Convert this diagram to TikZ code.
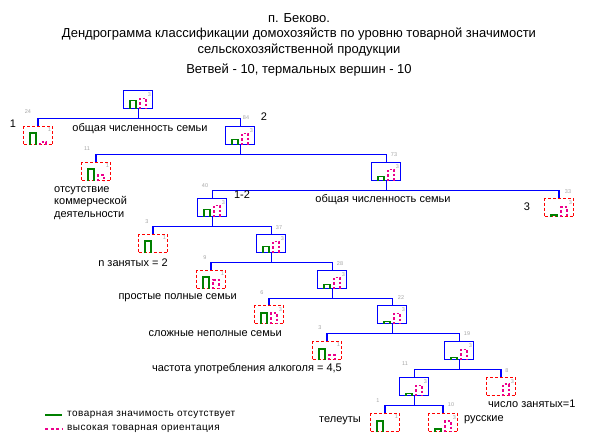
\documentclass[tikz,border=0pt]{standalone}
\usepackage{fontspec}
\setmainfont{Liberation Sans}
\newfontfamily\legfont[LetterSpace=4.5]{Liberation Sans}
\definecolor{dgreen}{RGB}{0,128,0}
\definecolor{numgray}{RGB}{165,165,165}
\tikzset{
  bl/.style={draw=blue, line width=1.2pt},
  bbox/.style={draw=blue, line width=1.2pt, minimum width=29pt, minimum height=18pt, inner sep=0pt, anchor=north west},
  rbox/.style={draw=red, line width=1.1pt, dash pattern=on 3pt off 2pt, minimum width=29pt, minimum height=18pt, inner sep=0pt, anchor=north west},
  gbar/.style={draw=dgreen, line width=1.3pt},
  mbar/.style={draw=magenta, line width=1.3pt, dash pattern=on 2.5pt off 2pt},
  num/.style={font=\fontsize{5.5}{6}\selectfont, text=numgray, inner sep=0pt},
  lbl/.style={font=\fontsize{11}{13}\selectfont, inner sep=0pt},
  big/.style={font=\fontsize{11}{12}\selectfont, inner sep=0pt},
  ttl/.style={font=\fontsize{13}{15}\selectfont, inner sep=0pt},
  leg/.style={font=\legfont\fontsize{10}{11}\selectfont, inner sep=0pt, anchor=west},
}
% #1 name, #2 x, #3 y, #4 style, #5 green height, #6 magenta height, #7 inner label
\newcommand{\dbox}[7]{%
  \node[#4] (#1) at (#2,#3) {};
  \ifnum#5>0 \draw[gbar] ([xshift=7pt]#1.south west) -- ++(0,-#5) -- ++(6,0) -- ++(0,#5);\fi
  \ifnum#6>0 \draw[mbar] ([xshift=17pt]#1.south west) -- ++(0,-#6) -- ++(6,0) -- ++(0,#6);\fi
  \node[num, anchor=north east] at ([xshift=-2pt,yshift=-2pt]#1.north east) {#7};
}
\newcommand{\tedge}[3]{%
  \draw[bl] (#1.south) -- ++(0,9) coordinate (#1b);
  \draw[bl] (#2.north) |- (#1b) -| (#3.north);
}
\begin{document}
\begin{tikzpicture}[x=1pt,y=-1pt]
\useasboundingbox (0,0) rectangle (598,447);
% titles
\node[ttl] (t1) at (299,18) {п. Беково.};
\node[ttl] (t2) at (299,34) {Дендрограмма классификации домохозяйств по уровню товарной значимости};
\node[ttl] (t3) at (299,50) {сельскохозяйственной продукции};
\node[ttl] (t4) at (299,70) {Ветвей - 10, термальных вершин - 10};
% boxes
\dbox{root}{123}{90}{bbox}{9}{11}{3}
\dbox{n1}{23}{126}{rbox}{12}{3}{1}
\dbox{n2}{225}{126}{bbox}{6}{12}{3}
\dbox{n11}{81}{162}{rbox}{12}{6}{1}
\dbox{n73}{371}{162}{bbox}{5}{12}{3}
\dbox{n40}{197}{198}{bbox}{8}{12}{3}
\dbox{n33}{544}{198}{rbox}{2}{10}{3}
\dbox{n3a}{138}{234}{rbox}{12}{0}{1}
\dbox{n37}{256}{234}{bbox}{7}{12}{3}
\dbox{n9}{196}{270}{rbox}{12}{9}{1}
\dbox{n28}{317}{270}{bbox}{5}{12}{3}
\dbox{n6}{254}{305}{rbox}{11}{11}{3}
\dbox{n22}{377}{305}{bbox}{3}{11}{3}
\dbox{n3b}{312}{341}{rbox}{11}{5}{1}
\dbox{n19}{444}{341}{bbox}{3}{11}{3}
\dbox{n11b}{399}{377}{bbox}{3}{11}{3}
\dbox{n8}{486}{377}{rbox}{0}{12}{3}
\dbox{nt}{370}{413}{rbox}{11}{0}{1}
\dbox{nr}{428}{413}{rbox}{3}{11}{3}
% edges
\tedge{root}{n1}{n2}
\tedge{n2}{n11}{n73}
\tedge{n73}{n40}{n33}
\tedge{n40}{n3a}{n37}
\tedge{n37}{n9}{n28}
\tedge{n28}{n6}{n22}
\tedge{n22}{n3b}{n19}
\tedge{n19}{n11b}{n8}
\tedge{n11b}{nt}{nr}
% counts
\node[num] (c1) at (28,112) {24};
\node[num] (c2) at (246,118) {84};
\node[num] (c11) at (87,149) {11};
\node[num] (c73) at (394,155) {73};
\node[num] (c40) at (205,186) {40};
\node[num] (c33) at (568,192) {33};
\node[num] (c3a) at (147,222) {3};
\node[num] (c37) at (279,228) {37};
\node[num] (c9) at (205,258) {9};
\node[num] (c28) at (340,264) {28};
\node[num] (c6) at (262,293) {6};
\node[num] (c22) at (401,298) {22};
\node[num] (c3b) at (320,328) {3};
\node[num] (c19) at (467,334) {19};
\node[num] (c11b) at (405,364) {11};
\node[num] (c8) at (507,371) {8};
\node[num] (ct) at (378,401) {1};
\node[num] (cr) at (451,405) {10};
% cluster numbers
\node[big] (k1) at (13,124) {1};
\node[big] (k2) at (264,117) {2};
\node[big] (k12) at (242,195) {1-2};
\node[big] (k3) at (527,207) {3};
% labels
\node[lbl] (l1) at (140,129) {общая численность семьи};
\node[lbl, anchor=north west, align=left, font=\fontsize{11}{12.5}\selectfont] (l2) at (54,186) {отсутствие\\коммерческой\\деятельности};
\node[lbl] (l3) at (383,200) {общая численность семьи};
\node[lbl, anchor=east] (l4) at (168,263) {n занятых = 2};
\node[lbl, anchor=east] (l5) at (237,298) {простые полные семьи};
\node[lbl, anchor=east] (l6) at (282,334) {сложные неполные семьи};
\node[lbl, anchor=east] (l7) at (342,369) {частота употребления алкоголя = 4,5};
\node[lbl, anchor=west] (l8) at (488,404) {число занятых=1};
\node[lbl, anchor=west] (l9) at (319,421) {телеуты};
\node[lbl, anchor=west] (l10) at (464,420) {русские};
% legend
\draw[draw=dgreen, line width=1.2pt] (45,415) -- (62,415);
\node[leg] (g1) at (67,415) {товарная значимость отсутствует};
\draw[draw=magenta, line width=1.2pt, dash pattern=on 3pt off 2.5pt] (45,429) -- (62,429);
\node[leg] (g2) at (67,429) {высокая товарная ориентация};
\end{tikzpicture}
\end{document}
